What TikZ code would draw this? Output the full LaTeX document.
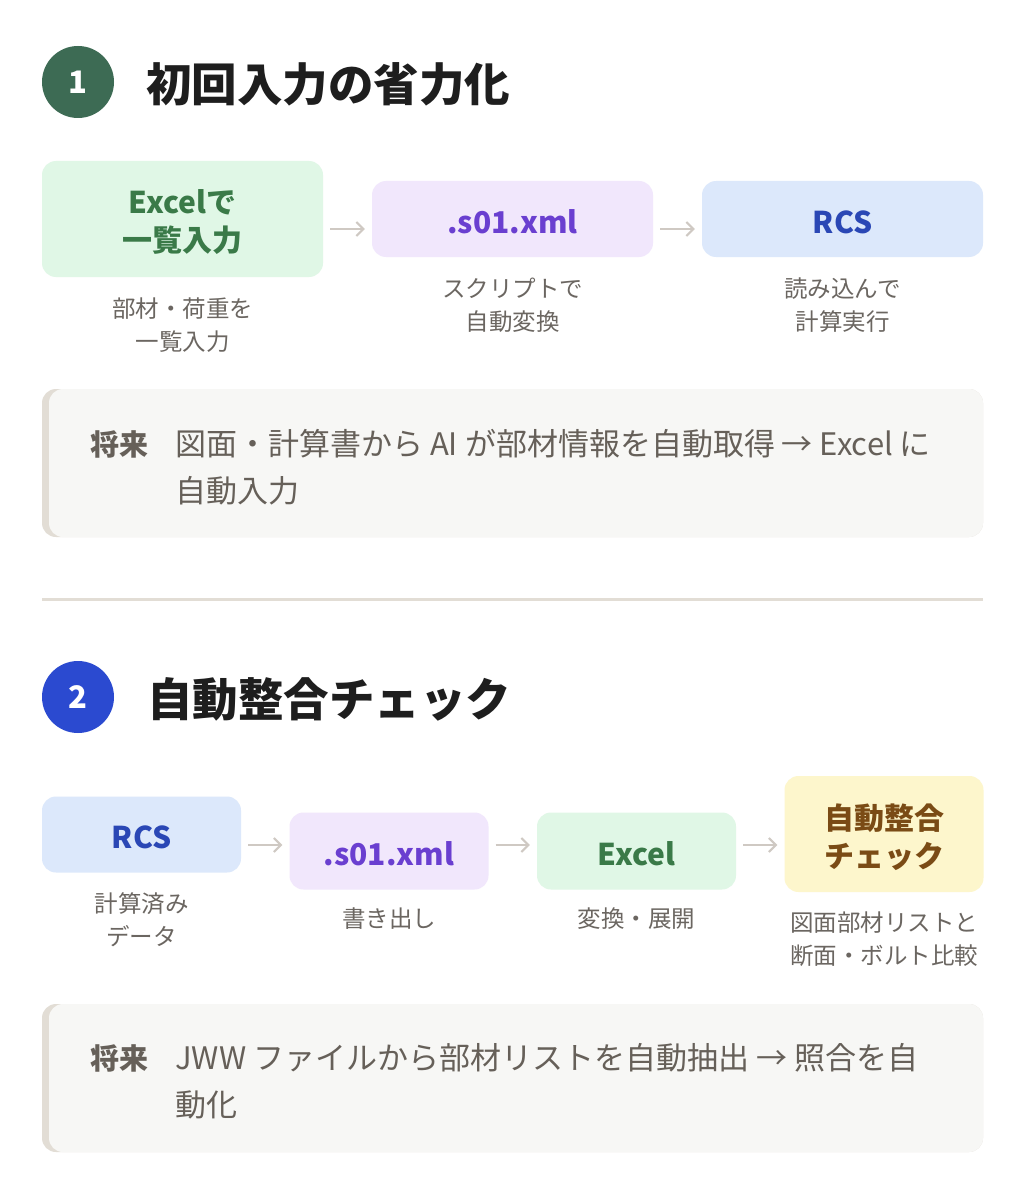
\documentclass[tikz,border=0pt]{standalone}
\usepackage{fontspec}
\setmainfont{Noto Sans CJK JP}
\usetikzlibrary{arrows.meta,calc}
\definecolor{cone}{HTML}{3D6B54}
\definecolor{ctwo}{HTML}{2B4AD0}
\definecolor{ttl}{HTML}{1E1E1E}
\definecolor{gfill}{HTML}{E0F7E6}
\definecolor{gtext}{HTML}{3A7A48}
\definecolor{pfill}{HTML}{F1E7FC}
\definecolor{ptext}{HTML}{6A3FD0}
\definecolor{bfill}{HTML}{DCE8FB}
\definecolor{btext}{HTML}{2A47B5}
\definecolor{yfill}{HTML}{FDF6CC}
\definecolor{ytext}{HTML}{7A4B15}
\definecolor{capc}{HTML}{6B6661}
\definecolor{fbg}{HTML}{F7F7F5}
\definecolor{fbd}{HTML}{E2DDD5}
\definecolor{arrc}{HTML}{CFC9C3}
\definecolor{futc}{HTML}{666059}
\tikzset{
  numc/.style={circle, minimum size=72pt, inner sep=0pt, text=white, font=\bfseries\fontsize{31}{31}\selectfont},
  ttlc/.style={anchor=west, inner sep=0pt, text=ttl, font=\bfseries\fontsize{45.5}{45.5}\selectfont},
  flowbox/.style={rounded corners=14pt, inner sep=0pt},
  boxtxt/.style={inner sep=0pt, align=center, yshift=-3pt, font=\bfseries\fontsize{30}{38}\selectfont},
  capt/.style={inner sep=0pt, align=center, text=capc, font=\fontsize{23.5}{33}\selectfont},
  fut/.style={anchor=west, inner sep=0pt, text=futc, font=\fontsize{31}{31}\selectfont},
  futb/.style={fut, font=\bfseries\fontsize{29}{29}\selectfont},
  arr/.style={draw=arrc, line width=2pt, -{Straight Barb[length=7pt,width=14pt]}},
}
\begin{document}
\begin{tikzpicture}[x=1pt,y=-1pt]
\useasboundingbox[fill=white] (0,0) rectangle (1025,1190);

% ---------- Section 1 ----------
\node[numc, fill=cone] (n1) at (78,82) {1};
\node[ttlc] (t1) at (146,84) {初回入力の省力化};

\node[flowbox, fill=gfill, minimum width=281pt, minimum height=116pt,
  label={[boxtxt, text=gtext]center:Excelで\\一覧入力}] (a1) at (182.5,219) {};
\node[flowbox, fill=pfill, minimum width=281pt, minimum height=76pt,
  label={[boxtxt, text=ptext]center:.s01.xml}] (a2) at (512.5,219) {};
\node[flowbox, fill=bfill, minimum width=281pt, minimum height=76pt,
  label={[boxtxt, text=btext]center:RCS}] (a3) at (842.5,219) {};

\coordinate (r1) at (0,229);
\draw[arr] ($(a1.east |- r1)+(7,0)$) -- ($(a2.west |- r1)+(-7,0)$);
\draw[arr] ($(a2.east |- r1)+(7,0)$) -- ($(a3.west |- r1)+(-7,0)$);

\node[capt] (c1) at (182.5,325) {部材・荷重を\\一覧入力};
\node[capt] (c2) at (512.5,305) {スクリプトで\\自動変換};
\node[capt] (c3) at (842.5,305) {読み込んで\\計算実行};

\fill[fbd, rounded corners=14pt] (42,389) rectangle (983,537);
\fill[fbg, rounded corners=14pt] (49,389) rectangle (983,537);
\node[futb] (f1l) at (90,444) {将来};
\node[fut] (f1a) at (175,444) {図面・計算書から AI が部材情報を自動取得 → Excel に};
\node[fut] (f1b) at (175,491) {自動入力};

% divider
\draw[fbd, line width=3pt] (42,599) -- (983,599);

% ---------- Section 2 ----------
\node[numc, fill=ctwo] (n2) at (78,697) {2};
\node[ttlc] (t2) at (147,699) {自動整合チェック};

\node[flowbox, fill=bfill, minimum width=199pt, minimum height=76pt,
  label={[boxtxt, text=btext]center:RCS}] (b1) at (141.5,834.5) {};
\node[flowbox, fill=pfill, minimum width=199pt, minimum height=77pt,
  label={[boxtxt, text=ptext]center:.s01.xml}] (b2) at (389,851) {};
\node[flowbox, fill=gfill, minimum width=199pt, minimum height=77pt,
  label={[boxtxt, text=gtext]center:Excel}] (b3) at (636.5,851) {};
\node[flowbox, fill=yfill, minimum width=199pt, minimum height=116pt,
  label={[boxtxt, text=ytext]center:自動整合\\チェック}] (b4) at (884,834) {};

\coordinate (r2) at (0,845);
\draw[arr] ($(b1.east |- r2)+(7,0)$) -- ($(b2.west |- r2)+(-7,0)$);
\draw[arr] ($(b2.east |- r2)+(7,0)$) -- ($(b3.west |- r2)+(-7,0)$);
\draw[arr] ($(b3.east |- r2)+(7,0)$) -- ($(b4.west |- r2)+(-7,0)$);

\node[capt] (d1) at (141.5,920) {計算済み\\データ};
\node[capt] (d2) at (389,919) {書き出し};
\node[capt] (d3) at (636.5,919) {変換・展開};
\node[capt] (d4) at (884,939) {図面部材リストと\\断面・ボルト比較};

\fill[fbd, rounded corners=14pt] (42,1004) rectangle (983,1152);
\fill[fbg, rounded corners=14pt] (49,1004) rectangle (983,1152);
\node[futb] (f2l) at (90,1058) {将来};
\node[fut] (f2a) at (175,1058) {JWW ファイルから部材リストを自動抽出 → 照合を自};
\node[fut] (f2b) at (175,1105) {動化};
\end{tikzpicture}
\end{document}
